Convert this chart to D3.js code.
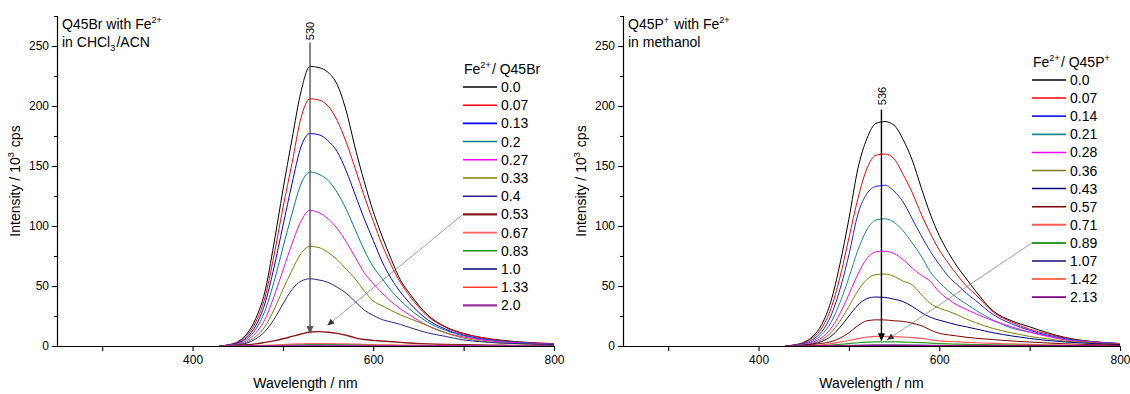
<!DOCTYPE html>
<html><head><meta charset="utf-8">
<script src="https://cdn.jsdelivr.net/npm/d3@7"></script>
<style>
body{margin:0;background:#fff}
svg{display:block}
text{font-family:Arial,"Liberation Sans",sans-serif;fill:#000}
</style>
</head><body>
<svg id="c" width="1130" height="394"></svg>
<script>
// ---------- DATA ----------
const wavelengths = [430,440,450,460,470,480,490,500,510,520,530,540,550,560,570,580,590,600,610,620,630,640,660,680,700,720,740,760,780,800];
const xTicks = [400,600,800];
const xMinorTicks = [300,500,700];
const yTicks = [0,50,100,150,200,250];
const yMinorTicks = [25,75,125,175,225];

// Left panel: Q45Br with Fe2+ in CHCl3/ACN
const leftRatios = ["0.0","0.07","0.13","0.2","0.27","0.33","0.4","0.53","0.67","0.83","1.0","1.33","2.0"];
const leftColors = ["#000000","#ff0000","#0000ff","#008080","#ff00ff","#808000","#26268c","#8b1a1a","#ff6060","#119911","#000080","#ff3a2a","#993399"];
const L00  = [0,1,3.5,10,23,45,85,130,172,212,233,232,228,218,196,165,137,112,91,72,55,44,26,16,10.5,7,5,3.5,2.5,2];
const L007 = [0,1,3,8.5,20,40,75,115,152,190,206,205,200,188,170,148,125,104,84,67,53,42,25,15.5,10,7,4.5,3.3,2.4,2];
const L013 = [0,0.8,2.5,7,17,35,65,100,135,166,177,176,171,162,146,126,106,88,70,56,45,36,22,14,9,6,4,3,2.2,1.8];
const L02  = [0,0.6,2,6,14,29,53,82,110,135,145,143,138,128,114,97,80,66,56,46,38,31,20,13,8.5,5.5,4,3,2,1.7];
const L027 = [0,0.5,1.6,4.5,11,22,41,63,85,104,113,111,106,98,87,74,61,52,44,37,31,26,17,11,7.5,5,3.5,2.5,2,1.5];
const L033 = [0,0.4,1.2,3.3,8,16,30,47,63,77,83,82,78,72,64,56,46,37.5,33.5,29.5,26,23,17,11,6.5,4,2.5,2,1.5,1.2];
const L04  = [0,0.3,0.9,2.4,6,12,22,35,47,54,56,55,53,49,44,37,30,25.5,22,20,18,15.5,11,8,5,3.5,2.5,2,1.5,1.2];
const L053 = [0,0.2,0.5,1,1.8,3,4.3,6,8,10,11.7,12,11.5,10.5,9,6.8,5.4,4.7,4.2,3.6,3,2.5,1.8,1.3,1,0.8,0.6,0.5,0.4,0.3];
const L067 = [0,0,0.1,0.2,0.3,0.5,0.8,1.1,1.5,1.8,2,2,1.9,1.8,1.7,1.5,1.3,1.1,1,0.9,0.8,0.7,0.6,0.5,0.4,0.3,0.3,0.2,0.2,0.2];
const L083 = [0,0,0,0.1,0.15,0.25,0.4,0.55,0.7,0.85,0.95,1,0.95,0.9,0.85,0.75,0.65,0.55,0.5,0.45,0.4,0.35,0.3,0.25,0.2,0.15,0.15,0.1,0.1,0.1];
const L10  = [0,0,0,0.05,0.1,0.15,0.25,0.35,0.45,0.55,0.6,0.6,0.58,0.55,0.5,0.45,0.4,0.35,0.3,0.28,0.25,0.22,0.18,0.15,0.12,0.1,0.1,0.08,0.08,0.08];
const L133 = [0,0,0,0.05,0.08,0.12,0.18,0.25,0.33,0.4,0.45,0.45,0.43,0.4,0.37,0.33,0.3,0.26,0.23,0.2,0.18,0.16,0.13,0.11,0.09,0.08,0.07,0.06,0.06,0.06];
const L20  = [0,0,0,0.03,0.06,0.1,0.14,0.2,0.26,0.31,0.35,0.35,0.33,0.31,0.28,0.25,0.22,0.2,0.18,0.16,0.14,0.12,0.1,0.08,0.07,0.06,0.05,0.05,0.04,0.04];

// Right panel: Q45P+ with Fe2+ in methanol
const rightRatios = ["0.0","0.07","0.14","0.21","0.28","0.36","0.43","0.57","0.71","0.89","1.07","1.42","2.13"];
const rightColors = ["#000000","#ff0000","#2020ff","#1a8a8a","#ff00ff","#808000","#000080","#800000","#ff5a5a","#2e9a2e","#10107a","#ff4020","#800080"];
const R00  = [0,1,3,8,18,37,68,106,148,173,185.5,187,184,172,155,132,110,92,78,66,56,46,29,21,16,11,7,4.5,3,2];
const R007 = [0,0.8,2.5,7,15,31,57,90,123,148,159,160,156,143,128,110,94,80,69,59,50,43,28,20,14,10,6.5,4.3,3,2];
const R014 = [0,0.7,2,5.5,12,25,47,76,110,127,133,134,129,120,106,92,79,68,58,51,44,38,26,18.5,13,9,6,4,2.8,2];
const R021 = [0,0.5,1.5,4.2,9.5,19.5,36,57,80,97,105,106,103,96,86,75,62,53,46,40,35,30,21.5,15,11.5,8.5,5.5,3.8,2.6,1.8];
const R028 = [0,0.4,1.2,3.2,7,14.5,27,43,60,73,78.5,79,77,72,65,59,54,45,39,34,30.5,27,21,16,11.5,8,5,3.5,2.5,1.8];
const R036 = [0,0.3,0.9,2.4,5.3,11,20.5,33,46,55.5,59.5,60,58,54,51,43,35.5,31.5,29,26,22.5,19.5,14.5,11,8,6,4,3,2,1.5];
const R043 = [0,0.2,0.6,1.7,3.8,8,15.5,25,34,39.5,40.8,40.5,39,37,33,28,24,21.5,19.5,17.5,16,14.3,11,8.4,6.3,4.6,3.3,2.4,1.7,1.2];
const R057 = [0,0.2,0.5,1.2,2.2,3.5,6.5,11,17,21,21.8,21.7,21,20.5,19,17,13.5,10.5,9.3,8.3,7.3,6.5,5.3,4.2,3.3,2.5,1.8,1.3,1,0.7];
const R071 = [0,0.1,0.2,0.5,1,2,3.2,4.6,6.2,7.5,8,8,7.8,7.5,7,6.3,5.3,4.3,3.8,3.4,3,2.7,2.2,1.7,1.3,1,0.8,0.6,0.4,0.3];
const R089 = [0,0,0.1,0.2,0.4,0.8,1.4,2,2.7,3.2,3.5,3.5,3.4,3.3,3.1,2.8,2.4,2,1.7,1.5,1.3,1.2,1,0.8,0.6,0.5,0.4,0.3,0.2,0.2];
const R107 = [0,0,0,0.05,0.1,0.2,0.35,0.5,0.65,0.8,0.9,0.9,0.88,0.85,0.8,0.72,0.62,0.52,0.45,0.4,0.35,0.32,0.26,0.2,0.16,0.13,0.1,0.08,0.06,0.05];
const R142 = [0,0,0,0.03,0.06,0.11,0.19,0.28,0.36,0.44,0.5,0.5,0.49,0.47,0.44,0.4,0.34,0.29,0.25,0.22,0.19,0.18,0.14,0.11,0.09,0.07,0.06,0.04,0.03,0.03];
const R213 = [0,0,0,0.02,0.04,0.07,0.11,0.17,0.22,0.27,0.3,0.3,0.29,0.28,0.26,0.24,0.2,0.17,0.15,0.13,0.11,0.1,0.08,0.07,0.05,0.04,0.03,0.03,0.02,0.02];

const leftSeries  = [L00,L007,L013,L02,L027,L033,L04,L053,L067,L083,L10,L133,L20];
const rightSeries = [R00,R007,R014,R021,R028,R036,R043,R057,R071,R089,R107,R142,R213];

// ---------- DRAWING ----------
const svg = d3.select("#c");
const NB = "\u00A0";

function addRich(sel, parts, fs) {
  parts.forEach(p => {
    const [t, m] = p;
    if (m === "sup") {
      sel.append("tspan").attr("dy", -6).attr("font-size", fs*0.65).text(t);
      sel.append("tspan").attr("dy", 6).text("\u200A");
    } else if (m === "sub") {
      sel.append("tspan").attr("dy", 4).attr("font-size", fs*0.65).text(t);
      sel.append("tspan").attr("dy", -4).text("\u200A");
    } else {
      sel.append("tspan").text(t);
    }
  });
}

function panel(cfg) {
  const g = svg.append("g");
  const x = d3.scaleLinear().domain([250,800]).range([cfg.x0, cfg.x0 + 497]);
  const y = d3.scaleLinear().domain([0,275]).range([346,16]);

  const line = d3.line().x((d,i)=>x(wavelengths[i])).y(d=>y(d)).curve(d3.curveMonotoneX);
  cfg.series.forEach((s,i)=>{
    g.append("path").datum(s).attr("d", line).attr("fill","none")
      .attr("stroke", cfg.colors[i]).attr("stroke-width", cfg.widths[i]).attr("stroke-linejoin","round");
  });

  g.append("g").attr("transform","translate(0,346)")
    .call(d3.axisBottom(x).tickValues(xTicks).tickSize(5).tickSizeOuter(0).tickPadding(4).tickFormat(d3.format("d")));
  g.append("g").attr("transform","translate(0,346)")
    .call(d3.axisBottom(x).tickValues(xMinorTicks).tickSize(5).tickSizeOuter(0).tickFormat(""))
    .select(".domain").remove();
  g.append("g").attr("transform",`translate(${cfg.x0},0)`)
    .call(d3.axisLeft(y).tickValues(yTicks).tickSize(5).tickSizeOuter(3).tickPadding(3));
  g.append("g").attr("transform",`translate(${cfg.x0},0)`)
    .call(d3.axisLeft(y).tickValues(yMinorTicks).tickSize(3).tickSizeOuter(0).tickFormat(""))
    .select(".domain").remove();
  g.selectAll(".domain").attr("stroke","#000").attr("stroke-width",1.2);
  g.selectAll(".tick line").attr("stroke","#000").attr("stroke-width",1.1);
  g.selectAll(".tick text").attr("font-size",12).attr("font-family","Arial, 'Liberation Sans', sans-serif").attr("fill","#000");

  g.append("text").attr("x", cfg.x0 + 248.5).attr("y", 388).attr("text-anchor","middle")
    .attr("font-size",14).text("Wavelength / nm");
  const yl = g.append("text").attr("transform",`translate(${cfg.x0-37},181) rotate(-90)`)
    .attr("text-anchor","middle").attr("font-size",14);
  addRich(yl, [["Intensity / 10","n"],["3","sup"],[NB+"cps","n"]], 14);

  const t1 = g.append("text").attr("x", cfg.x0 + 5).attr("y", 28.5).attr("font-size",14);
  addRich(t1, cfg.title1, 14);
  const t2 = g.append("text").attr("x", cfg.x0 + 5).attr("y", 46.5).attr("font-size",14);
  addRich(t2, cfg.title2, 14);

  const lt = g.append("text").attr("x", cfg.legX + 1).attr("y", cfg.legTitleY).attr("font-size",14);
  addRich(lt, cfg.legTitle, 14);
  cfg.labels.forEach((lab,i)=>{
    const yy = cfg.legY0 + i*cfg.legStep;
    g.append("line").attr("x1", cfg.legX).attr("x2", cfg.legX + 34).attr("y1", yy).attr("y2", yy)
      .attr("stroke", cfg.colors[i]).attr("stroke-width", cfg.legWidths[i]);
    g.append("text").attr("x", cfg.legX + 38).attr("y", yy).attr("dy","0.36em").attr("font-size",14).text(lab);
  });

  const ax = x(cfg.peak);
  const top = y(cfg.arrowTop), tip = y(cfg.arrowTip);
  g.append("line").attr("x1",ax).attr("x2",ax).attr("y1",top).attr("y2",tip-7)
    .attr("stroke",cfg.arrowColor).attr("stroke-width",1.4);
  g.append("path").attr("d",`M${ax-3.5},${tip-8} L${ax+3.5},${tip-8} L${ax},${tip} Z`).attr("fill",cfg.arrowColor);
  g.append("text").attr("transform",`translate(${ax+0.5},${cfg.peakLabelY}) rotate(-90)`)
    .attr("text-anchor","middle").attr("dy","0.36em").attr("font-size",11).text(String(cfg.peak));

  const sx = cfg.legX, sy = cfg.legY0 + cfg.diagRow*cfg.legStep;
  const ex = x(cfg.diagEnd[0]), ey = y(cfg.diagEnd[1]);
  const ang = Math.atan2(ey-sy, ex-sx);
  const hl = 7, hw = 3;
  const bx = ex - hl*Math.cos(ang), by = ey - hl*Math.sin(ang);
  g.append("line").attr("x1",sx).attr("y1",sy).attr("x2",bx).attr("y2",by)
    .attr("stroke","#777").attr("stroke-width",0.7);
  g.append("path").attr("d",
    `M${ex},${ey} L${bx + hw*Math.sin(ang)},${by - hw*Math.cos(ang)} L${bx - hw*Math.sin(ang)},${by + hw*Math.cos(ang)} Z`)
    .attr("fill","#333");
}

panel({
  x0: 57,
  series: leftSeries, colors: leftColors, labels: leftRatios,
  widths: [1,1,1,1,1,1,1,1.4,1.2,1,1,1,1.2],
  legWidths: [1.3,1.5,1.8,1.5,1.5,1.5,1.5,2.4,1.8,1.5,1.5,1.5,2.2],
  title1: [["Q45Br with Fe","n"],["2+","sup"]],
  title2: [["in CHCl","n"],["3","sub"],["/ACN","n"]],
  legX: 463, legTitleY: 73.5, legY0: 87, legStep: 18.2,
  legTitle: [["Fe","n"],["2+","sup"],["/ Q45Br","n"]],
  peak: 530, arrowTop: 253, arrowTip: 10, arrowColor: "#555", peakLabelY: 31,
  diagRow: 7, diagEnd: [549, 17]
});

panel({
  x0: 623,
  series: rightSeries, colors: rightColors, labels: rightRatios,
  widths: [1,1,1,1,1,1,1,1,1.2,1.2,1,1,1.2],
  legWidths: [1.3,1.5,1.8,1.8,1.5,1.5,1.5,1.5,2,2,1.5,1.5,1.8],
  title1: [["Q45P","n"],["+","sup"],[NB+"with Fe","n"],["2+","sup"]],
  title2: [["in methanol","n"]],
  legX: 1032, legTitleY: 66.5, legY0: 80, legStep: 18.1,
  legTitle: [["Fe","n"],["2+","sup"],["/ Q45P","n"],["+","sup"]],
  peak: 536, arrowTop: 197, arrowTip: 4, arrowColor: "#000", peakLabelY: 96,
  diagRow: 9, diagEnd: [542, 5]
});
</script>
</body></html>
